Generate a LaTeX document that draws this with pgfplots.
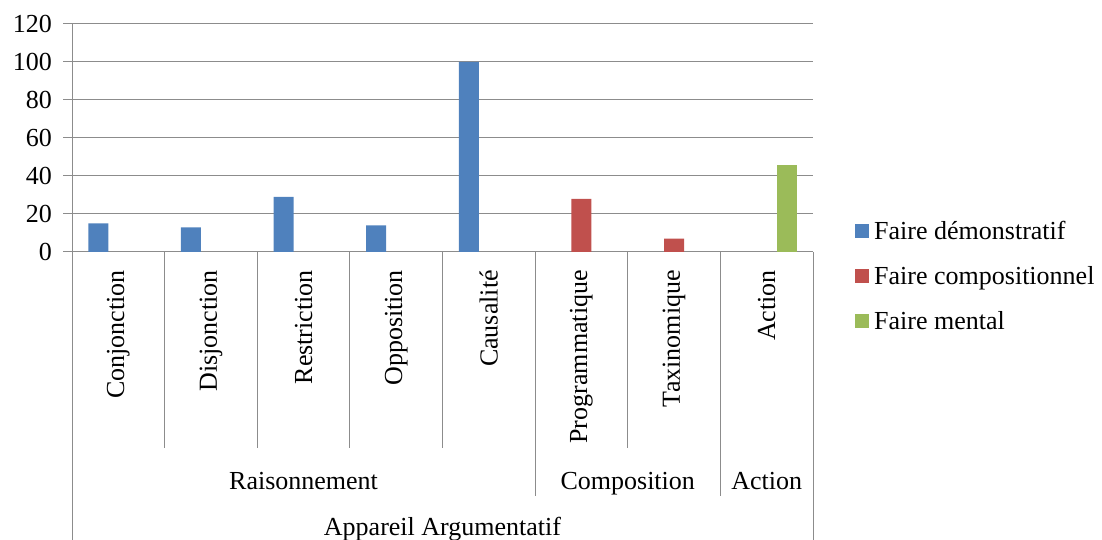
\documentclass[border=0pt]{standalone}
\usepackage{pgfplots}
\pgfplotsset{compat=1.18}
\usepackage{fontspec}
\setmainfont{Liberation Serif}
\definecolor{cblue}{RGB}{79,129,189}
\definecolor{cred}{RGB}{192,80,77}
\definecolor{cgreen}{RGB}{155,187,89}
\definecolor{gridc}{RGB}{140,140,140}
\newcommand{\bigf}{\fontsize{26}{31}\selectfont}
\begin{document}
\begin{tikzpicture}
\useasboundingbox (0pt,0pt) rectangle (1102pt,540pt);
\begin{axis}[
  at={(72pt,288pt)}, anchor=south west,
  scale only axis, width=741pt, height=228pt,
  xmin=-0.5, xmax=7.5, ymin=0, ymax=120,
  ytick={0,20,...,120},
  xtick={0,...,7},
  xticklabels={Conjonction,Disjonction,Restriction,Opposition,Causalité,Programmatique,Taxinomique,Action},
  axis x line*=bottom, axis y line*=left,
  axis line style={gridc, line width=1pt},
  ymajorgrids, grid style={gridc, line width=1pt},
  tick align=outside, major tick length=9pt,
  ytick style={gridc, line width=1pt},
  xtick style={draw=none},
  /pgf/number format/assume math mode=true,
  tick label style={font=\bigf},
  yticklabel style={inner sep=0pt, xshift=-11pt, anchor=east},
  xticklabel style={rotate=90, anchor=east, inner sep=0pt, inner xsep=9pt},
  ybar, bar width=20pt,
  clip=false,
  legend cell align=left,
  legend style={at={(1.0567,-0.1184)}, anchor=west, draw=none, fill=none, inner sep=0pt,
    font=\bigf, nodes={inner sep=0pt, text height=18pt, text depth=6pt},
    row sep=21pt, /tikz/every odd column/.append style={column sep=5pt}},
]
\addplot[fill=cblue, draw=none, bar shift=-20pt,
  legend image code/.code={\fill[cblue] (0pt,-4pt) rectangle (14pt,10pt);}]
  coordinates {(0,15) (1,13) (2,29) (3,14) (4,100)};
\addlegendentry{Faire démonstratif}
\addplot[fill=cred, draw=none, bar shift=0pt,
  legend image code/.code={\fill[cred] (0pt,-4pt) rectangle (14pt,10pt);}]
  coordinates {(5,28) (6,7)};
\addlegendentry{Faire compositionnel}
\addplot[fill=cgreen, draw=none, bar shift=20pt,
  legend image code/.code={\fill[cgreen] (0pt,-4pt) rectangle (14pt,10pt);}]
  coordinates {(7,46)};
\addlegendentry{Faire mental}
% separators
\draw[gridc, line width=1pt] (axis cs:0.5,0) -- (axis cs:0.5,-103.16);
\draw[gridc, line width=1pt] (axis cs:1.5,0) -- (axis cs:1.5,-103.16);
\draw[gridc, line width=1pt] (axis cs:2.5,0) -- (axis cs:2.5,-103.16);
\draw[gridc, line width=1pt] (axis cs:3.5,0) -- (axis cs:3.5,-103.16);
\draw[gridc, line width=1pt] (axis cs:5.5,0) -- (axis cs:5.5,-103.16);
\draw[gridc, line width=1pt] (axis cs:4.5,0) -- (axis cs:4.5,-128.42);
\draw[gridc, line width=1pt] (axis cs:6.5,0) -- (axis cs:6.5,-128.42);
\draw[gridc, line width=1pt] (axis cs:-0.5,0) -- (axis cs:-0.5,-151.58);
\draw[gridc, line width=1pt] (axis cs:7.5,0) -- (axis cs:7.5,-151.58);
\node[anchor=base, inner sep=0pt, font=\bigf] at (axis cs:2,-124.74) {Raisonnement};
\node[anchor=base, inner sep=0pt, font=\bigf] at (axis cs:5.5,-124.74) {Composition};
\node[anchor=base, inner sep=0pt, font=\bigf] at (axis cs:7,-124.74) {Action};
\node[anchor=base, inner sep=0pt, font=\bigf] at (axis cs:3.5,-149.2) {Appareil Argumentatif};
\end{axis}
\end{tikzpicture}
\end{document}
